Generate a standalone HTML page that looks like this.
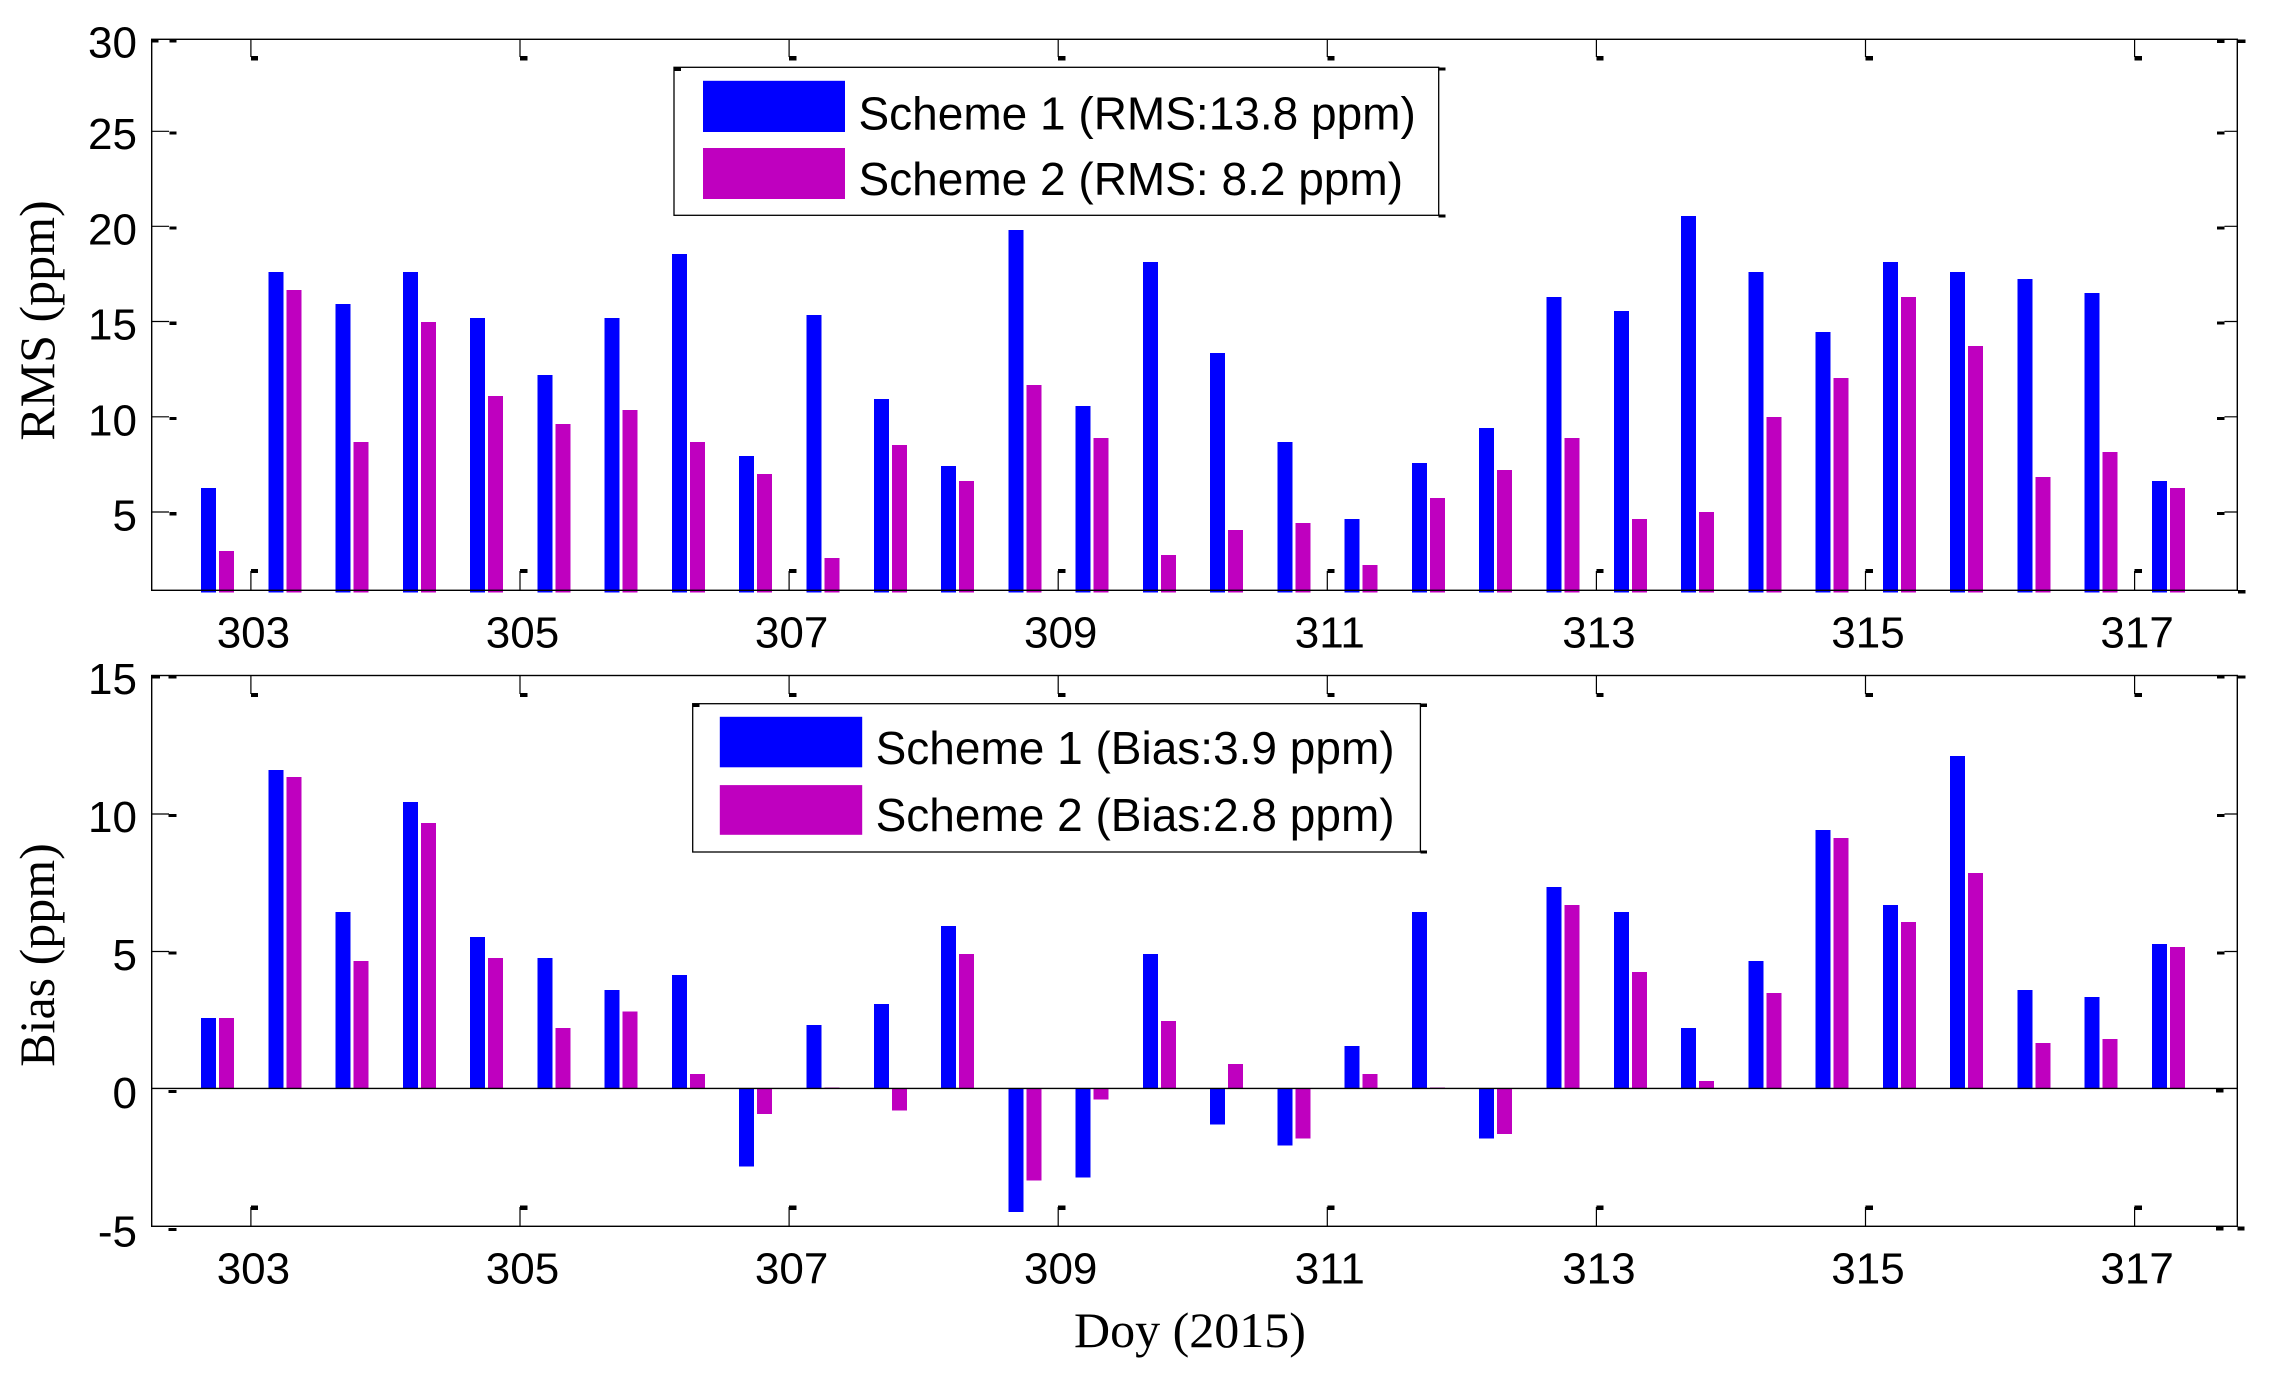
<!DOCTYPE html>
<html>
<head>
<meta charset="utf-8">
<style>
html,body{margin:0;padding:0;background:#fff;}
svg{display:block;}
</style>
</head>
<body>
<svg xmlns="http://www.w3.org/2000/svg" width="2270" height="1374" viewBox="0 0 2270 1374">
<rect x="0" y="0" width="2270" height="1374" fill="#fff"/>

<!-- ================= TOP PLOT BARS ================= -->
<g shape-rendering="crispEdges">
<g fill="#0000FF">
<rect x="201" y="488" width="15" height="104.7"/>
<rect x="268.3" y="271.9" width="15" height="320.8"/>
<rect x="335.6" y="304" width="15" height="288.7"/>
<rect x="402.8" y="271.9" width="15" height="320.8"/>
<rect x="470.1" y="317.9" width="15" height="274.8"/>
<rect x="537.4" y="375" width="15" height="217.7"/>
<rect x="604.7" y="317.9" width="15" height="274.8"/>
<rect x="671.9" y="254" width="15" height="338.7"/>
<rect x="739.2" y="455.8" width="15" height="136.9"/>
<rect x="806.5" y="315.2" width="15" height="277.5"/>
<rect x="873.8" y="399.1" width="15" height="193.6"/>
<rect x="941" y="466" width="15" height="126.7"/>
<rect x="1008.3" y="229.9" width="15" height="362.8"/>
<rect x="1075.6" y="405.8" width="15" height="186.9"/>
<rect x="1142.9" y="262" width="15" height="330.7"/>
<rect x="1210.1" y="353.1" width="15" height="239.6"/>
<rect x="1277.4" y="442" width="15" height="150.7"/>
<rect x="1344.7" y="519.2" width="15" height="73.5"/>
<rect x="1412" y="463" width="15" height="129.7"/>
<rect x="1479.2" y="428.1" width="15" height="164.6"/>
<rect x="1546.5" y="296.9" width="15" height="295.8"/>
<rect x="1613.8" y="311.2" width="15" height="281.5"/>
<rect x="1681.1" y="216" width="15" height="376.7"/>
<rect x="1748.3" y="271.9" width="15" height="320.8"/>
<rect x="1815.6" y="332" width="15" height="260.7"/>
<rect x="1882.9" y="262" width="15" height="330.7"/>
<rect x="1950.2" y="271.9" width="15" height="320.8"/>
<rect x="2017.5" y="279" width="15" height="313.7"/>
<rect x="2084.7" y="292.9" width="15" height="299.8"/>
<rect x="2152" y="480.8" width="15" height="111.9"/>
</g>
<g fill="#BF00BF">
<rect x="219" y="551" width="15" height="41.7"/>
<rect x="286.3" y="290.2" width="15" height="302.5"/>
<rect x="353.6" y="442" width="15" height="150.7"/>
<rect x="420.8" y="321.9" width="15" height="270.8"/>
<rect x="488.1" y="396" width="15" height="196.7"/>
<rect x="555.4" y="424" width="15" height="168.7"/>
<rect x="622.7" y="409.8" width="15" height="182.9"/>
<rect x="689.9" y="442" width="15" height="150.7"/>
<rect x="757.2" y="474" width="15" height="118.7"/>
<rect x="824.5" y="558" width="15" height="34.7"/>
<rect x="891.8" y="445.1" width="15" height="147.6"/>
<rect x="959" y="480.8" width="15" height="111.9"/>
<rect x="1026.3" y="384.8" width="15" height="207.9"/>
<rect x="1093.6" y="438" width="15" height="154.7"/>
<rect x="1160.9" y="555" width="15" height="37.7"/>
<rect x="1228.1" y="529.9" width="15" height="62.8"/>
<rect x="1295.4" y="523.2" width="15" height="69.5"/>
<rect x="1362.7" y="565.2" width="15" height="27.5"/>
<rect x="1430" y="498.2" width="15" height="94.5"/>
<rect x="1497.2" y="470" width="15" height="122.7"/>
<rect x="1564.5" y="438" width="15" height="154.7"/>
<rect x="1631.8" y="519.2" width="15" height="73.5"/>
<rect x="1699.1" y="512" width="15" height="80.7"/>
<rect x="1766.3" y="417" width="15" height="175.7"/>
<rect x="1833.6" y="378" width="15" height="214.7"/>
<rect x="1900.9" y="296.9" width="15" height="295.8"/>
<rect x="1968.2" y="346" width="15" height="246.7"/>
<rect x="2035.5" y="476.8" width="15" height="115.9"/>
<rect x="2102.7" y="451.8" width="15" height="140.9"/>
<rect x="2170" y="488" width="15" height="104.7"/>
</g>
</g>

<!-- ================= BOTTOM PLOT BARS ================= -->
<g shape-rendering="crispEdges">
<g fill="#0000FF">
<rect x="201" y="1017.8" width="15" height="70.7"/>
<rect x="268.3" y="770.1" width="15" height="318.4"/>
<rect x="335.6" y="912" width="15" height="176.5"/>
<rect x="402.8" y="802" width="15" height="286.5"/>
<rect x="470.1" y="936.8" width="15" height="151.7"/>
<rect x="537.4" y="957.9" width="15" height="130.6"/>
<rect x="604.7" y="990.2" width="15" height="98.3"/>
<rect x="671.9" y="975.2" width="15" height="113.3"/>
<rect x="739.2" y="1088.5" width="15" height="78.2"/>
<rect x="806.5" y="1024.8" width="15" height="63.7"/>
<rect x="873.8" y="1004.2" width="15" height="84.3"/>
<rect x="941" y="926" width="15" height="162.5"/>
<rect x="1008.3" y="1088.5" width="15" height="123.6"/>
<rect x="1075.6" y="1088.5" width="15" height="89"/>
<rect x="1142.9" y="954.1" width="15" height="134.4"/>
<rect x="1210.1" y="1088.5" width="15" height="36"/>
<rect x="1277.4" y="1088.5" width="15" height="57.1"/>
<rect x="1344.7" y="1045.9" width="15" height="42.6"/>
<rect x="1412" y="912" width="15" height="176.5"/>
<rect x="1479.2" y="1088.5" width="15" height="50.1"/>
<rect x="1546.5" y="887.2" width="15" height="201.3"/>
<rect x="1613.8" y="912" width="15" height="176.5"/>
<rect x="1681.1" y="1028.1" width="15" height="60.4"/>
<rect x="1748.3" y="961.2" width="15" height="127.3"/>
<rect x="1815.6" y="830.1" width="15" height="258.4"/>
<rect x="1882.9" y="905" width="15" height="183.5"/>
<rect x="1950.2" y="756.1" width="15" height="332.4"/>
<rect x="2017.5" y="990.2" width="15" height="98.3"/>
<rect x="2084.7" y="997.2" width="15" height="91.3"/>
<rect x="2152" y="943.8" width="15" height="144.7"/>
</g>
<g fill="#BF00BF">
<rect x="219" y="1017.8" width="15" height="70.7"/>
<rect x="286.3" y="777.2" width="15" height="311.3"/>
<rect x="353.6" y="961.2" width="15" height="127.3"/>
<rect x="420.8" y="823" width="15" height="265.5"/>
<rect x="488.1" y="957.9" width="15" height="130.6"/>
<rect x="555.4" y="1028.1" width="15" height="60.4"/>
<rect x="622.7" y="1011.3" width="15" height="77.2"/>
<rect x="689.9" y="1074" width="15" height="14.5"/>
<rect x="757.2" y="1088.5" width="15" height="25.3"/>
<rect x="824.5" y="1087.5" width="15" height="1.5"/>
<rect x="891.8" y="1088.5" width="15" height="22"/>
<rect x="959" y="954.1" width="15" height="134.4"/>
<rect x="1026.3" y="1088.5" width="15" height="92.2"/>
<rect x="1093.6" y="1088.5" width="15" height="11.2"/>
<rect x="1160.9" y="1021.1" width="15" height="67.4"/>
<rect x="1228.1" y="1064.2" width="15" height="24.3"/>
<rect x="1295.4" y="1088.5" width="15" height="50.1"/>
<rect x="1362.7" y="1074" width="15" height="14.5"/>
<rect x="1430" y="1087.5" width="15" height="1.5"/>
<rect x="1497.2" y="1088.5" width="15" height="45.4"/>
<rect x="1564.5" y="905" width="15" height="183.5"/>
<rect x="1631.8" y="971.9" width="15" height="116.6"/>
<rect x="1699.1" y="1081" width="15" height="7.5"/>
<rect x="1766.3" y="993" width="15" height="95.5"/>
<rect x="1833.6" y="838" width="15" height="250.5"/>
<rect x="1900.9" y="921.8" width="15" height="166.7"/>
<rect x="1968.2" y="873.1" width="15" height="215.4"/>
<rect x="2035.5" y="1043.1" width="15" height="45.4"/>
<rect x="2102.7" y="1038.9" width="15" height="49.6"/>
<rect x="2170" y="947.1" width="15" height="141.4"/>
</g>
</g>

<!-- ================= AXES FRAMES ================= -->
<g fill="none" stroke="#000" stroke-width="1.4">
<rect x="151.7" y="39.3" width="2085.6" height="551"/>
<rect x="151.7" y="675.5" width="2085.6" height="550.8"/>
<line x1="151.7" y1="1088.4" x2="2237.3" y2="1088.4"/>
</g>

<!-- ================= TICKS ================= -->
<g stroke="#000" stroke-width="1.2" fill="none">
<!-- top plot left/right y ticks -->
<path d="M151.7 131.3H169 M151.7 226.3H169 M151.7 321.5H169 M151.7 416.8H169 M151.7 512H169"/>
<path d="M2224.5 131.3H2237.3 M2224.5 226.3H2237.3 M2224.5 321.5H2237.3 M2224.5 416.8H2237.3 M2224.5 512H2237.3"/>
<!-- top plot x ticks -->
<path d="M250.9 39.3V57 M520 39.3V57 M789.1 39.3V57 M1058.2 39.3V57 M1327.3 39.3V57 M1596.4 39.3V57 M1865.5 39.3V57 M2134.6 39.3V57"/>
<path d="M250.9 590.3V571 M520 590.3V571 M789.1 590.3V571 M1058.2 590.3V571 M1327.3 590.3V571 M1596.4 590.3V571 M1865.5 590.3V571 M2134.6 590.3V571"/>
<!-- bottom plot y ticks -->
<path d="M151.7 814H169 M151.7 951.5H169"/>
<path d="M2224.5 814H2237.3 M2224.5 951.5H2237.3"/>
<!-- bottom plot x ticks -->
<path d="M250.9 675.5V694 M520 675.5V694 M789.1 675.5V694 M1058.2 675.5V694 M1327.3 675.5V694 M1596.4 675.5V694 M1865.5 675.5V694 M2134.6 675.5V694"/>
<path d="M250.9 1226.3V1207 M520 1226.3V1207 M789.1 1226.3V1207 M1058.2 1226.3V1207 M1327.3 1226.3V1207 M1596.4 1226.3V1207 M1865.5 1226.3V1207 M2134.6 1226.3V1207"/>
</g>
<g fill="#000" shape-rendering="crispEdges">
<!-- top plot left tick blobs -->
<rect x="151.7" y="39.3" width="6.6" height="3"/>
<rect x="169.3" y="39.3" width="7.4" height="3"/>
<rect x="169.3" y="131.3" width="7.4" height="3.3"/>
<rect x="169.3" y="226.3" width="7.4" height="3.3"/>
<rect x="169.3" y="321.5" width="7.4" height="3.3"/>
<rect x="169.3" y="416.8" width="7.4" height="3.3"/>
<rect x="169.3" y="512" width="7.4" height="3.3"/>
<!-- top plot right tick blobs -->
<rect x="2217" y="39.3" width="7.5" height="3.5"/>
<rect x="2238" y="39.3" width="7.6" height="3.5"/>
<rect x="2217" y="131.3" width="7.5" height="3.2"/>
<rect x="2217" y="226.3" width="7.5" height="3.2"/>
<rect x="2217" y="321.5" width="7.5" height="3.2"/>
<rect x="2217" y="416.8" width="7.5" height="3.2"/>
<rect x="2217" y="512" width="7.5" height="3.2"/>
<rect x="2238" y="590" width="7.6" height="3.7"/>
<!-- top plot x tick blobs -->
<rect x="250.9" y="56" width="7.3" height="4.5"/>
<rect x="520" y="56" width="7.3" height="4.5"/>
<rect x="789.1" y="56" width="7.3" height="4.5"/>
<rect x="1058.2" y="56" width="7.3" height="4.5"/>
<rect x="1327.3" y="56" width="7.3" height="4.5"/>
<rect x="1596.4" y="56" width="7.3" height="4.5"/>
<rect x="1865.5" y="56" width="7.3" height="4.5"/>
<rect x="2134.6" y="56" width="7.3" height="4.5"/>
<rect x="250.9" y="569" width="7.3" height="4"/>
<rect x="520" y="569" width="7.3" height="4"/>
<rect x="789.1" y="569" width="7.3" height="4"/>
<rect x="1058.2" y="569" width="7.3" height="4"/>
<rect x="1327.3" y="569" width="7.3" height="4"/>
<rect x="1596.4" y="569" width="7.3" height="4"/>
<rect x="1865.5" y="569" width="7.3" height="4"/>
<rect x="2134.6" y="569" width="7.3" height="4"/>
<!-- bottom plot left -->
<rect x="151.7" y="675.5" width="8.3" height="3"/>
<rect x="168.7" y="675.5" width="7.7" height="3"/>
<rect x="168.7" y="814" width="7.7" height="3"/>
<rect x="168.7" y="951.5" width="7.7" height="3"/>
<rect x="168.7" y="1090" width="7.7" height="3"/>
<rect x="168.7" y="1228" width="7.7" height="3"/>
<!-- bottom plot right -->
<rect x="2217" y="675.5" width="7.5" height="3"/>
<rect x="2238" y="675.5" width="7.6" height="3"/>
<rect x="2217" y="814" width="7.5" height="3"/>
<rect x="2217" y="951.5" width="7.5" height="3"/>
<rect x="2216" y="1088.3" width="7.7" height="4.4"/>
<rect x="2216" y="1226.3" width="7.7" height="4.4"/>
<rect x="2237.3" y="1226.3" width="7.4" height="4.4"/>
<!-- bottom plot x tick blobs -->
<rect x="250.9" y="693" width="7.3" height="4"/>
<rect x="520" y="693" width="7.3" height="4"/>
<rect x="789.1" y="693" width="7.3" height="4"/>
<rect x="1058.2" y="693" width="7.3" height="4"/>
<rect x="1327.3" y="693" width="7.3" height="4"/>
<rect x="1596.4" y="693" width="7.3" height="4"/>
<rect x="1865.5" y="693" width="7.3" height="4"/>
<rect x="2134.6" y="693" width="7.3" height="4"/>
<rect x="250.9" y="1205.5" width="7.3" height="4.5"/>
<rect x="520" y="1205.5" width="7.3" height="4.5"/>
<rect x="789.1" y="1205.5" width="7.3" height="4.5"/>
<rect x="1058.2" y="1205.5" width="7.3" height="4.5"/>
<rect x="1327.3" y="1205.5" width="7.3" height="4.5"/>
<rect x="1596.4" y="1205.5" width="7.3" height="4.5"/>
<rect x="1865.5" y="1205.5" width="7.3" height="4.5"/>
<rect x="2134.6" y="1205.5" width="7.3" height="4.5"/>
</g>

<!-- ================= TICK LABELS ================= -->
<g font-family="'Liberation Sans', Arial, sans-serif" font-size="44" fill="#000">
<g text-anchor="end">
<text x="137" y="57.3">30</text>
<text x="137" y="149">25</text>
<text x="137" y="244.3">20</text>
<text x="137" y="339.3">15</text>
<text x="137" y="435.3">10</text>
<text x="137" y="530.4">5</text>
<text x="137" y="693.8">15</text>
<text x="137" y="832">10</text>
<text x="137" y="970">5</text>
<text x="137" y="1108">0</text>
<text x="137" y="1246.3">-5</text>
</g>
<g text-anchor="middle">
<text x="253.4" y="647.3">303</text>
<text x="522.5" y="647.3">305</text>
<text x="791.6" y="647.3">307</text>
<text x="1060.7" y="647.3">309</text>
<text x="1329.8" y="647.3">311</text>
<text x="1598.9" y="647.3">313</text>
<text x="1868" y="647.3">315</text>
<text x="2137.1" y="647.3">317</text>
<text x="253.4" y="1283.7">303</text>
<text x="522.5" y="1283.7">305</text>
<text x="791.6" y="1283.7">307</text>
<text x="1060.7" y="1283.7">309</text>
<text x="1329.8" y="1283.7">311</text>
<text x="1598.9" y="1283.7">313</text>
<text x="1868" y="1283.7">315</text>
<text x="2137.1" y="1283.7">317</text>
</g>
</g>

<!-- ================= AXIS LABELS ================= -->
<g font-family="'Liberation Serif', 'Times New Roman', serif" font-size="50" fill="#000" text-anchor="middle">
<text transform="translate(54,320.5) rotate(-90)">RMS (ppm)</text>
<text transform="translate(54,955) rotate(-90)">Bias (ppm)</text>
<text x="1190" y="1347">Doy (2015)</text>
</g>

<!-- ================= LEGEND 1 ================= -->
<rect x="674" y="67.3" width="764.7" height="148" fill="#fff" stroke="#000" stroke-width="1.3"/>
<g fill="#000" shape-rendering="crispEdges">
<rect x="674" y="67.3" width="7" height="3.7"/>
<rect x="1438.7" y="67.3" width="6.6" height="3.4"/>
<rect x="1438.7" y="214.7" width="6.6" height="2.8"/>
</g>
<rect x="703" y="80.8" width="142" height="51.2" fill="#0000FF"/>
<rect x="703" y="148" width="142" height="51" fill="#BF00BF"/>
<g font-family="'Liberation Sans', Arial, sans-serif" font-size="46" fill="#000">
<text x="858.5" y="129.5">Scheme 1 (RMS:13.8 ppm)</text>
<text x="858.5" y="195">Scheme 2 (RMS: 8.2 ppm)</text>
</g>

<!-- ================= LEGEND 2 ================= -->
<rect x="692.7" y="703.7" width="727.7" height="148.3" fill="#fff" stroke="#000" stroke-width="1.3"/>
<g fill="#000" shape-rendering="crispEdges">
<rect x="692.7" y="703.7" width="6.8" height="3.3"/>
<rect x="1420.4" y="703.7" width="6.6" height="3.3"/>
<rect x="1420.4" y="850.5" width="6.6" height="3"/>
</g>
<rect x="719.8" y="716.8" width="142.4" height="50.5" fill="#0000FF"/>
<rect x="719.8" y="785.1" width="142.4" height="49.7" fill="#BF00BF"/>
<g font-family="'Liberation Sans', Arial, sans-serif" font-size="46" fill="#000">
<text x="875.6" y="764">Scheme 1 (Bias:3.9 ppm)</text>
<text x="875.6" y="831">Scheme 2 (Bias:2.8 ppm)</text>
</g>
</svg>
</body>
</html>
